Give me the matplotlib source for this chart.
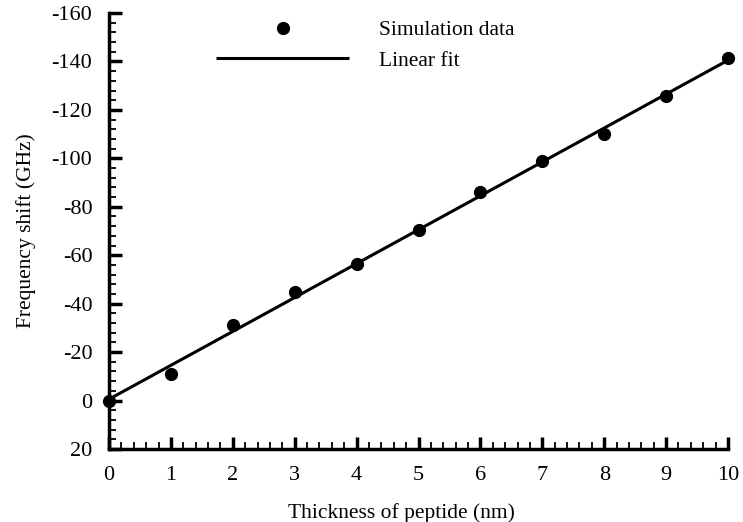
import numpy as np
import matplotlib
matplotlib.use("Agg")
import matplotlib.pyplot as plt
from matplotlib.ticker import MultipleLocator, FuncFormatter

# values
thickness = [0, 1, 2, 3, 4, 5, 6, 7, 8, 9, 10]
shift = [0, -11, -31, -45, -56.5, -70.5, -86, -98.8, -110, -125.6, -141.4]
y_ticks = [-160, -140, -120, -100, -80, -60, -40, -20, 0, 20]

plt.rcParams['font.family'] = ['Liberation Serif', 'DejaVu Serif']

fig = plt.figure(figsize=(7.43, 5.22), dpi=100)
ax = fig.add_axes([109 / 743, 1 - 449 / 522, (728 - 109) / 743, (449 - 13) / 522])

# linear fit from the data
coef = np.polyfit(thickness, shift, 1)
x_fit = np.array([thickness[0], thickness[-1]])
ax.plot(x_fit, np.polyval(coef, x_fit), color='black', lw=2.2,
        label='Linear fit', solid_capstyle='butt', zorder=2)
ax.plot(thickness, shift, 'o', color='black', ms=8.5, label='Simulation data',
        clip_on=False, zorder=3)

ax.set_xlim(0, 10)
ax.set_ylim(20, -160)
ax.set_yticks(y_ticks)
ax.yaxis.set_major_formatter(FuncFormatter(lambda v, p: '%d' % v))
ax.xaxis.set_major_locator(MultipleLocator(1))
ax.xaxis.set_minor_locator(MultipleLocator(0.2))
ax.yaxis.set_minor_locator(MultipleLocator(4))

for s in ['top', 'right']:
    ax.spines[s].set_visible(False)
for s in ['left', 'bottom']:
    ax.spines[s].set_linewidth(2.5)

ax.tick_params(which='major', direction='in', length=9, width=2.5,
               labelsize=16, pad=12)
ax.tick_params(which='minor', direction='in', length=5, width=1.3)

ax.set_xlabel('Thickness of peptide (nm)', fontsize=15.5)
ax.xaxis.set_label_coords(0.473, -0.125)
ax.set_ylabel('Frequency shift (GHz)', fontsize=15.5, labelpad=11)

h, l = ax.get_legend_handles_labels()
ax.legend(h[::-1], l[::-1], loc='upper left', bbox_to_anchor=(216 / 743, 1 - 20 / 522),
          bbox_transform=fig.transFigure, frameon=False, fontsize=15.5,
          handlelength=6.2, handletextpad=1.35, labelspacing=0.5,
          borderpad=0, borderaxespad=0)

fig.savefig('out.png', dpi=100)
